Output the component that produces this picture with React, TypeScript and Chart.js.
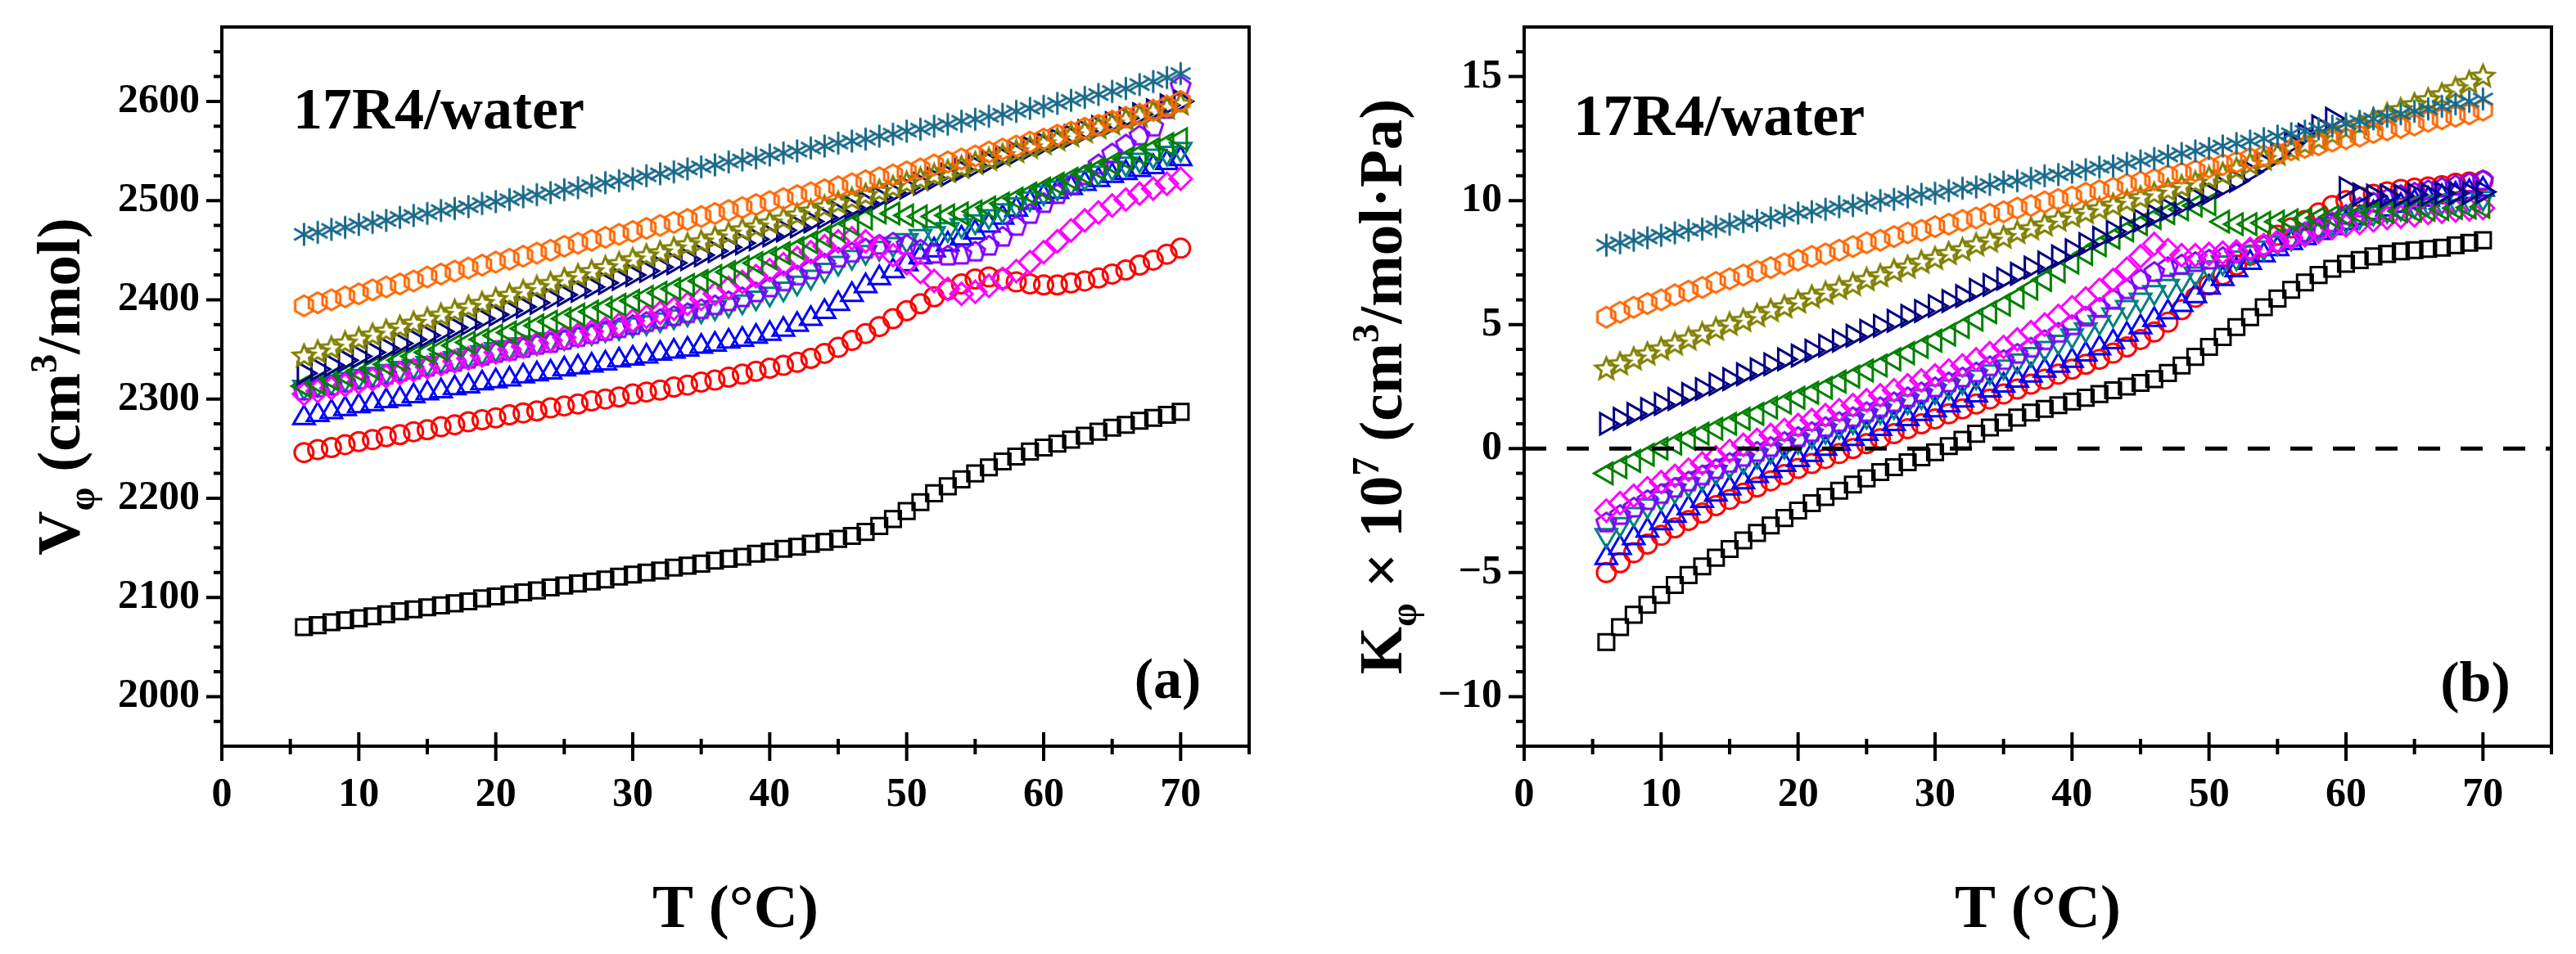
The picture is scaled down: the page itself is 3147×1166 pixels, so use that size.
import { useEffect, useRef } from 'react';
import { Chart, registerables, ChartConfiguration, Plugin } from 'chart.js';

Chart.register(...registerables);

const FONT = "'Liberation Serif', 'Times New Roman', serif";

// temperature, °C
const temps = [
  6, 7, 8, 9, 10, 11, 12, 13, 14, 15,
  16, 17, 18, 19, 20, 21, 22, 23, 24, 25,
  26, 27, 28, 29, 30, 31, 32, 33, 34, 35,
  36, 37, 38, 39, 40, 41, 42, 43, 44, 45,
  46, 47, 48, 49, 50, 51, 52, 53, 54, 55,
  56, 57, 58, 59, 60, 61, 62, 63, 64, 65,
  66, 67, 68, 69, 70,
];

// (a) V_phi, cm3/mol
const vBlack = [
  2070, 2072, 2075, 2077, 2079, 2081, 2083, 2086, 2088, 2090,
  2092, 2094, 2096, 2099, 2101, 2103, 2105, 2107, 2110, 2112,
  2114, 2116, 2118, 2121, 2123, 2125, 2127, 2130, 2132, 2134,
  2137, 2139, 2141, 2144, 2146, 2149, 2151, 2154, 2156, 2159,
  2162, 2166, 2172, 2179, 2187, 2196, 2205, 2212, 2219, 2225,
  2231, 2237, 2242, 2247, 2251, 2255, 2259, 2263, 2267, 2271,
  2274, 2278, 2281, 2284, 2287,
];
const vRed = [
  2246, 2249, 2251, 2254, 2257, 2259, 2262, 2264, 2267, 2269,
  2272, 2274, 2277, 2279, 2281, 2284, 2286, 2288, 2291, 2293,
  2295, 2298, 2300, 2302, 2305, 2307, 2309, 2312, 2314, 2317,
  2319, 2322, 2325, 2328, 2331, 2334, 2337, 2341, 2346, 2352,
  2359, 2366, 2373, 2381, 2389, 2396, 2403, 2410, 2416, 2421,
  2423, 2421, 2418, 2416, 2415, 2415, 2417, 2419, 2422, 2426,
  2430, 2435, 2440, 2446, 2452,
];
const vBlue = [
  2281, 2284, 2287, 2290, 2293, 2295, 2298, 2300, 2303, 2306,
  2308, 2311, 2313, 2316, 2318, 2320, 2323, 2325, 2327, 2330,
  2332, 2334, 2336, 2339, 2341, 2343, 2346, 2348, 2350, 2353,
  2355, 2358, 2360, 2363, 2366, 2370, 2375, 2381, 2388, 2396,
  2405, 2414, 2422, 2429, 2436, 2443, 2450, 2456, 2462, 2468,
  2475, 2483, 2491, 2498, 2504, 2509, 2513, 2517, 2521, 2525,
  2528, 2531, 2534, 2538, 2542,
];
const vTeal = [
  2312, 2315, 2317, 2320, 2323, 2325, 2328, 2331, 2333, 2336,
  2339, 2341, 2344, 2347, 2350, 2352, 2355, 2357, 2360, 2362,
  2365, 2367, 2370, 2372, 2375, 2377, 2380, 2383, 2386, 2389,
  2392, 2395, 2398, 2402, 2406, 2411, 2417, 2423, 2430, 2437,
  2443, 2448, 2452, 2456, 2460, 2464, 2467, 2471, 2475, 2479,
  2484, 2490, 2496, 2502, 2508, 2513, 2518, 2523, 2528, 2533,
  2537, 2541, 2545, 2548, 2552,
];
const vMagenta = [
  2305, 2308, 2311, 2314, 2317, 2320, 2323, 2326, 2329, 2332,
  2335, 2338, 2341, 2344, 2347, 2350, 2353, 2356, 2359, 2362,
  2365, 2368, 2371, 2375, 2379, 2383, 2387, 2391, 2396, 2401,
  2406, 2412, 2418, 2424, 2430, 2436, 2442, 2448, 2454, 2459,
  2462, 2459, 2453, 2445, 2437, 2428, 2419, 2411, 2406, 2408,
  2414, 2421, 2429, 2438, 2448, 2459, 2470, 2480, 2488, 2495,
  2501, 2507, 2512, 2517, 2522,
];
const vPurple = [
  2308, 2311, 2313, 2316, 2319, 2321, 2324, 2327, 2329, 2332,
  2335, 2337, 2340, 2343, 2346, 2348, 2351, 2354, 2356, 2359,
  2362, 2365, 2368, 2371, 2374, 2377, 2380, 2383, 2386, 2390,
  2394, 2398, 2402, 2407, 2412, 2418, 2424, 2430, 2436, 2442,
  2447, 2451, 2455, 2457, 2455, 2450, 2446, 2444, 2445, 2448,
  2454, 2463, 2474, 2486, 2497, 2506, 2515, 2525, 2536, 2547,
  2556, 2565, 2574, 2592, 2615,
];
const vGreen = [
  2313, 2316, 2320, 2324, 2328, 2331, 2335, 2339, 2343, 2347,
  2350, 2354, 2357, 2360, 2364, 2367, 2371, 2374, 2378, 2381,
  2385, 2388, 2392, 2395, 2399, 2403, 2407, 2411, 2415, 2419,
  2424, 2428, 2433, 2437, 2442, 2447, 2452, 2458, 2464, 2470,
  2476, 2482, 2488, 2487, 2485, 2484, 2484, 2485, 2487, 2489,
  2493, 2497, 2502, 2507, 2512, 2517, 2522, 2527, 2532, 2537,
  2542, 2547, 2552, 2557, 2562,
];
const vNavy = [
  2326, 2330, 2334, 2339, 2343, 2347, 2351, 2356, 2360, 2364,
  2368, 2372, 2376, 2381, 2385, 2389, 2393, 2397, 2401, 2405,
  2409, 2413, 2417, 2421, 2425, 2429, 2433, 2437, 2441, 2445,
  2449, 2453, 2457, 2461, 2465, 2470, 2474, 2479, 2483, 2488,
  2493, 2498, 2503, 2508, 2513, 2517, 2522, 2526, 2531, 2535,
  2539, 2544, 2548, 2553, 2557, 2561, 2565, 2570, 2574, 2578,
  2583, 2587, 2591, 2596, 2600,
];
const vOlive = [
  2343, 2347, 2351, 2356, 2360, 2364, 2368, 2372, 2376, 2380,
  2384, 2388, 2392, 2396, 2400, 2404, 2408, 2412, 2416, 2420,
  2424, 2428, 2432, 2436, 2440, 2444, 2447, 2451, 2455, 2458,
  2462, 2466, 2470, 2473, 2477, 2481, 2485, 2489, 2493, 2497,
  2501, 2505, 2509, 2513, 2517, 2521, 2525, 2529, 2533, 2537,
  2541, 2545, 2549, 2553, 2557, 2561, 2565, 2569, 2573, 2577,
  2581, 2585, 2589, 2593, 2597,
];
const vOrange = [
  2394, 2397, 2400, 2403, 2406, 2410, 2413, 2416, 2419, 2423,
  2426, 2429, 2432, 2435, 2438, 2441, 2444, 2447, 2450, 2454,
  2457, 2460, 2463, 2466, 2469, 2472, 2475, 2478, 2481, 2484,
  2487, 2490, 2493, 2496, 2499, 2502, 2505, 2508, 2511, 2514,
  2517, 2520, 2523, 2526, 2529, 2532, 2536, 2539, 2542, 2545,
  2549, 2552, 2555, 2559, 2562, 2566, 2569, 2573, 2576, 2580,
  2584, 2587, 2591, 2595, 2600,
];
const vAster = [
  2466, 2468, 2471, 2473, 2476, 2478, 2480, 2483, 2485, 2487,
  2490, 2492, 2494, 2497, 2499, 2501, 2504, 2506, 2508, 2511,
  2513, 2515, 2518, 2520, 2522, 2525, 2527, 2529, 2532, 2534,
  2536, 2539, 2541, 2543, 2546, 2548, 2550, 2553, 2555, 2558,
  2560, 2562, 2565, 2567, 2570, 2572, 2575, 2577, 2580, 2582,
  2585, 2587, 2590, 2593, 2595, 2598, 2601, 2604, 2607, 2610,
  2613, 2617, 2620, 2624, 2628,
];

// (b) K_phi x 10^7, cm3/(mol Pa)
const kBlack = [
  -7.8, -7.2, -6.7, -6.3, -5.9, -5.5, -5.1, -4.75, -4.4, -4.05,
  -3.7, -3.4, -3.1, -2.8, -2.5, -2.2, -1.95, -1.7, -1.45, -1.2,
  -0.95, -0.75, -0.55, -0.35, -0.15, 0.1, 0.35, 0.6, 0.85, 1.05,
  1.25, 1.45, 1.6, 1.75, 1.9, 2.05, 2.2, 2.35, 2.5, 2.65,
  2.8, 3.05, 3.35, 3.7, 4.1, 4.5, 4.9, 5.3, 5.7, 6.05,
  6.4, 6.7, 7.0, 7.25, 7.45, 7.6, 7.75, 7.85, 7.95, 8.0,
  8.05, 8.1, 8.2, 8.3, 8.4,
];
const kRed = [
  -5.0, -4.6, -4.2, -3.85, -3.5, -3.2, -2.9, -2.6, -2.3, -2.05,
  -1.8, -1.55, -1.3, -1.05, -0.8, -0.6, -0.4, -0.2, 0.0, 0.2,
  0.4, 0.6, 0.8, 1.0, 1.2, 1.4, 1.6, 1.8, 2.0, 2.2,
  2.4, 2.6, 2.8, 3.0, 3.2, 3.4, 3.6, 3.85, 4.1, 4.4,
  4.7, 5.1, 5.6, 6.1, 6.6, 7.0, 7.4, 7.8, 8.2, 8.6,
  8.9, 9.2, 9.5, 9.8, 10.0, 10.15, 10.25, 10.35, 10.45, 10.5,
  10.55, 10.6, 10.7, 10.75, 10.8,
];
const kBlue = [
  -4.4, -4.0, -3.6, -3.3, -3.0, -2.7, -2.4, -2.1, -1.85, -1.6,
  -1.35, -1.1, -0.9, -0.65, -0.45, -0.25, 0.0, 0.2, 0.4, 0.6,
  0.8, 1.0, 1.2, 1.4, 1.55, 1.75, 1.95, 2.15, 2.35, 2.55,
  2.75, 2.95, 3.15, 3.35, 3.55, 3.8, 4.05, 4.3, 4.6, 4.9,
  5.2, 5.5, 5.8, 6.15, 6.5, 6.85, 7.2, 7.5, 7.8, 8.05,
  8.3, 8.5, 8.7, 8.9, 9.1, 9.3, 9.5, 9.65, 9.8, 9.95,
  10.05, 10.15, 10.25, 10.35, 10.45,
];
const kTeal = [
  -3.5, -3.05, -2.65, -2.3, -2.0, -1.7, -1.45, -1.2, -0.95, -0.7,
  -0.5, -0.3, -0.1, 0.1, 0.3, 0.5, 0.7, 0.9, 1.1, 1.3,
  1.5, 1.7, 1.9, 2.1, 2.3, 2.5, 2.7, 2.9, 3.1, 3.3,
  3.55, 3.8, 4.05, 4.3, 4.55, 4.8, 5.1, 5.4, 5.7, 6.0,
  6.3, 6.55, 6.8, 7.05, 7.3, 7.5, 7.7, 7.9, 8.1, 8.3,
  8.5, 8.7, 8.9, 9.05, 9.2, 9.35, 9.5, 9.6, 9.7, 9.8,
  9.9, 9.95, 10.0, 10.05, 10.1,
];
const kMagenta = [
  -2.5, -2.2, -1.9, -1.6, -1.35, -1.1, -0.85, -0.6, -0.35, -0.1,
  0.15, 0.35, 0.55, 0.75, 0.95, 1.15, 1.35, 1.55, 1.75, 1.95,
  2.15, 2.35, 2.55, 2.75, 2.95, 3.15, 3.35, 3.6, 3.85, 4.1,
  4.4, 4.7, 5.0, 5.35, 5.7, 6.05, 6.4, 6.8, 7.25, 7.75,
  8.25, 8.0, 7.8, 7.8, 7.85, 7.9, 7.95, 8.05, 8.2, 8.35,
  8.5, 8.6, 8.75, 8.9, 9.0, 9.1, 9.2, 9.3, 9.35, 9.4,
  9.5, 9.55, 9.6, 9.65, 9.7,
];
const kPurple = [
  -3.0, -2.7, -2.4, -2.1, -1.85, -1.6, -1.35, -1.1, -0.85, -0.6,
  -0.35, -0.15, 0.05, 0.25, 0.45, 0.65, 0.85, 1.05, 1.25, 1.45,
  1.65, 1.85, 2.05, 2.25, 2.45, 2.65, 2.85, 3.05, 3.3, 3.55,
  3.8, 4.05, 4.35, 4.65, 4.95, 5.3, 5.65, 6.0, 6.4, 6.8,
  7.1, 7.3, 7.4, 7.5, 7.6, 7.7, 7.85, 8.0, 8.15, 8.3,
  8.5, 8.7, 8.9, 9.1, 9.4, 9.7, 9.9, 10.05, 10.2, 10.3,
  10.4, 10.5, 10.6, 10.7, 10.8,
];
const kGreen = [
  -1.0, -0.75, -0.5, -0.25, 0.0, 0.2, 0.4, 0.6, 0.8, 1.0,
  1.2, 1.4, 1.65, 1.85, 2.05, 2.25, 2.45, 2.7, 2.9, 3.15,
  3.35, 3.6, 3.85, 4.1, 4.35, 4.6, 4.9, 5.2, 5.5, 5.8,
  6.1, 6.45, 6.8, 7.15, 7.5, 7.85, 8.2, 8.5, 8.8, 9.05,
  9.3, 9.5, 9.65, 9.8, 9.85, 9.15, 9.05, 9.05, 9.1, 9.15,
  9.2, 9.25, 9.3, 9.35, 9.4, 9.45, 9.5, 9.55, 9.58, 9.6,
  9.63, 9.66, 9.7, 9.72, 9.75,
];
const kNavy = [
  1.0, 1.2, 1.4, 1.6, 1.8, 2.0, 2.2, 2.4, 2.6, 2.8,
  3.0, 3.2, 3.4, 3.6, 3.75, 3.95, 4.15, 4.35, 4.55, 4.75,
  4.95, 5.15, 5.35, 5.55, 5.75, 5.95, 6.15, 6.4, 6.6, 6.85,
  7.05, 7.3, 7.5, 7.75, 8.0, 8.25, 8.5, 8.75, 8.95, 9.2,
  9.4, 9.65, 9.85, 10.1, 10.3, 10.55, 10.8, 11.15, 11.5, 11.9,
  12.3, 12.65, 13.0, 13.3, 10.5, 10.25, 10.2, 10.2, 10.2, 10.25,
  10.25, 10.3, 10.3, 10.3, 10.35,
];
const kOlive = [
  3.2, 3.4, 3.6, 3.8, 4.0, 4.2, 4.4, 4.6, 4.8, 5.0,
  5.15, 5.35, 5.55, 5.7, 5.9, 6.1, 6.25, 6.45, 6.6, 6.8,
  6.95, 7.15, 7.3, 7.5, 7.65, 7.85, 8.0, 8.2, 8.35, 8.5,
  8.7, 8.85, 9.0, 9.2, 9.35, 9.5, 9.65, 9.8, 9.95, 10.1,
  10.25, 10.4, 10.55, 10.7, 10.9, 11.05, 11.25, 11.45, 11.65, 11.85,
  12.05, 12.25, 12.45, 12.65, 12.85, 13.05, 13.25, 13.45, 13.65, 13.85,
  14.05, 14.25, 14.5, 14.75, 15.0,
];
const kOrange = [
  5.3, 5.5, 5.7, 5.85, 6.0, 6.2, 6.35, 6.5, 6.7, 6.85,
  7.0, 7.15, 7.3, 7.45, 7.6, 7.75, 7.85, 8.0, 8.15, 8.3,
  8.4, 8.55, 8.7, 8.8, 8.95, 9.05, 9.2, 9.3, 9.45, 9.55,
  9.7, 9.8, 9.95, 10.05, 10.15, 10.3, 10.4, 10.5, 10.65, 10.75,
  10.85, 11.0, 11.1, 11.2, 11.35, 11.45, 11.55, 11.7, 11.8, 11.9,
  12.05, 12.15, 12.25, 12.4, 12.5, 12.6, 12.75, 12.85, 12.95, 13.05,
  13.2, 13.3, 13.4, 13.5, 13.65,
];
const kAster = [
  8.2, 8.3, 8.4, 8.5, 8.6, 8.7, 8.8, 8.85, 8.95, 9.05,
  9.15, 9.2, 9.3, 9.4, 9.5, 9.55, 9.65, 9.75, 9.8, 9.9,
  10.0, 10.05, 10.15, 10.25, 10.3, 10.4, 10.5, 10.55, 10.65, 10.75,
  10.8, 10.9, 11.0, 11.05, 11.15, 11.25, 11.35, 11.4, 11.5, 11.6,
  11.7, 11.8, 11.9, 12.0, 12.1, 12.2, 12.3, 12.4, 12.5, 12.6,
  12.7, 12.8, 12.9, 13.0, 13.1, 13.2, 13.3, 13.4, 13.5, 13.6,
  13.7, 13.8, 13.9, 14.0, 14.1,
];

// axes
const xTicks = [0, 10, 20, 30, 40, 50, 60, 70];
const xMinor = [5, 15, 25, 35, 45, 55, 65, 75];
const vTicks = [2000, 2100, 2200, 2300, 2400, 2500, 2600];
const vMinor = [
  1975, 2025, 2050, 2075, 2125, 2150, 2175, 2225, 2250, 2275, 2325, 2350, 2375,
  2425, 2450, 2475, 2525, 2550, 2575, 2625, 2650,
];
const kTicks = [-10, -5, 0, 5, 10, 15];
const kMinor = [-12, -11, -9, -8, -7, -6, -4, -3, -2, -1, 1, 2, 3, 4, 6, 7, 8, 9, 11, 12, 13, 14, 16];
const zeroLine = [0, 75];

type Seg = [string, number]; // 0 normal, 1 subscript, -1 superscript
const xTitle: Seg[] = [['T (°C)', 0]];
const vTitle: Seg[] = [['V', 0], ['φ', 1], [' (cm', 0], ['3', -1], ['/mol)', 0]];
const kTitle: Seg[] = [['K', 0], ['φ', 1], [' × 10', 0], ['7', -1], [' (cm', 0], ['3', -1], ['/mol·Pa)', 0]];

interface Series {
  color: string;
  style: string;
  rot?: number;
  r: number;
  v: number[];
  k: number[];
}

// first entry is drawn on top
const series: Series[] = [
  { color: '#1A6A8A', style: 'asterisk', r: 14, v: vAster, k: kAster },
  { color: '#FF6600', style: 'hexagon', r: 12.5, v: vOrange, k: kOrange },
  { color: '#808000', style: 'star5', r: 14, v: vOlive, k: kOlive },
  { color: '#000080', style: 'triangle', rot: 90, r: 15, v: vNavy, k: kNavy },
  { color: '#008000', style: 'triangle', rot: 270, r: 15, v: vGreen, k: kGreen },
  { color: '#FF00FF', style: 'rectRot', r: 13.5, v: vMagenta, k: kMagenta },
  { color: '#8000FF', style: 'pentagon', r: 12.5, v: vPurple, k: kPurple },
  { color: '#008080', style: 'triangle', rot: 180, r: 15, v: vTeal, k: kTeal },
  { color: '#0000FF', style: 'triangle', r: 15, v: vBlue, k: kBlue },
  { color: '#FF0000', style: 'circle', r: 11.5, v: vRed, k: kRed },
  { color: '#000000', style: 'rect', r: 13.5, v: vBlack, k: kBlack },
];

function markerCanvas(style: string, color: string, r: number) {
  const lw = 3;
  const s = Math.ceil(2 * r + lw + 4);
  const c = document.createElement('canvas');
  c.width = s;
  c.height = s;
  const g = c.getContext('2d')!;
  g.translate(s / 2, s / 2);
  g.strokeStyle = color;
  g.lineWidth = lw;
  g.beginPath();
  if (style === 'asterisk') {
    [90, 30, -30].forEach(d => {
      const a = (d * Math.PI) / 180;
      g.moveTo(Math.cos(a) * r, -Math.sin(a) * r);
      g.lineTo(-Math.cos(a) * r, Math.sin(a) * r);
    });
  } else {
    const n = style === 'star5' ? 10 : style === 'hexagon' ? 6 : 5;
    for (let i = 0; i < n; i++) {
      const a = -Math.PI / 2 + (i * 2 * Math.PI) / n;
      const rr = style === 'star5' && i % 2 ? r * 0.45 : r;
      if (i === 0) g.moveTo(Math.cos(a) * rr, Math.sin(a) * rr);
      else g.lineTo(Math.cos(a) * rr, Math.sin(a) * rr);
    }
    g.closePath();
  }
  g.stroke();
  return c;
}

function drawRich(ctx: CanvasRenderingContext2D, segs: Seg[], size: number, x: number, y: number, vertical: boolean) {
  const small = size * 0.62;
  const fontFor = (s: number) => `bold ${s}px ${FONT}`;
  let total = 0;
  const widths = segs.map(([t, m]) => {
    ctx.font = fontFor(m ? small : size);
    const w = ctx.measureText(t).width;
    total += w;
    return w;
  });
  ctx.save();
  ctx.translate(x, y);
  if (vertical) ctx.rotate(-Math.PI / 2);
  ctx.fillStyle = '#000';
  ctx.textAlign = 'left';
  ctx.textBaseline = 'alphabetic';
  let pos = -total / 2;
  segs.forEach(([t, m], i) => {
    ctx.font = fontFor(m ? small : size);
    const dy = m === 1 ? size * 0.24 : m === -1 ? -size * 0.38 : 0;
    ctx.fillText(t, pos, dy);
    pos += widths[i];
  });
  ctx.restore();
}

interface PanelDef {
  left: number;
  width: number;
  axisWidth: number;
  padRight: number;
  yMin: number;
  yMax: number;
  yTicks: number[];
  yMinor: number[];
  which: 'v' | 'k';
  yTitle: Seg[];
  yTitleX: number;
  zero: boolean;
  name: [number, number];
  tag: string;
  tagAt: [number, number];
}

const panelA: PanelDef = {
  left: 0, width: 1573, axisWidth: 271, padRight: 47,
  yMin: 1950, yMax: 2675, yTicks: vTicks, yMinor: vMinor, which: 'v',
  yTitle: vTitle, yTitleX: 97, zero: false,
  name: [5.2, 2573], tag: '(a)', tagAt: [71.5, 1999],
};

const panelB: PanelDef = {
  left: 1573, width: 1574, axisWidth: 289, padRight: 30,
  yMin: -12, yMax: 17, yTicks: kTicks, yMinor: kMinor, which: 'k',
  yTitle: kTitle, yTitleX: 139, zero: true,
  name: [3.6, 12.64], tag: '(b)', tagAt: [72, -10.2],
};

const PLOT_BOTTOM = 912;
const HEIGHT = 1166;

const decor = (def: PanelDef): Plugin<'scatter'> => ({
  id: 'decor',
  afterDraw(chart) {
    const { ctx, chartArea: a } = chart;
    const xs = chart.scales.x;
    const ys = chart.scales.y;
    ctx.save();
    ctx.strokeStyle = '#000';
    ctx.lineWidth = 4;
    ctx.beginPath();
    xs.ticks.forEach(t => {
      const p = xs.getPixelForValue(t.value);
      ctx.moveTo(p, a.bottom - 17);
      ctx.lineTo(p, a.bottom + 18);
    });
    xMinor.forEach(v => {
      const p = xs.getPixelForValue(v);
      ctx.moveTo(p, a.bottom - 9);
      ctx.lineTo(p, a.bottom + 10);
    });
    ys.ticks.forEach(t => {
      const p = ys.getPixelForValue(t.value);
      ctx.moveTo(a.left - 19, p);
      ctx.lineTo(a.left, p);
    });
    def.yMinor.forEach(v => {
      const p = ys.getPixelForValue(v);
      ctx.moveTo(a.left - 10, p);
      ctx.lineTo(a.left, p);
    });
    ctx.stroke();
    ctx.strokeRect(a.left, a.top, a.right - a.left, a.bottom - a.top);

    ctx.fillStyle = '#000';
    ctx.textBaseline = 'alphabetic';
    ctx.textAlign = 'left';
    ctx.font = `bold 72px ${FONT}`;
    ctx.fillText('17R4/water', xs.getPixelForValue(def.name[0]), ys.getPixelForValue(def.name[1]));
    ctx.textAlign = 'right';
    ctx.font = `bold 70px ${FONT}`;
    ctx.fillText(def.tag, xs.getPixelForValue(def.tagAt[0]), ys.getPixelForValue(def.tagAt[1]));

    drawRich(ctx, xTitle, 75, (a.left + a.right) / 2, 1133, false);
    drawRich(ctx, def.yTitle, 75, def.yTitleX, (a.top + a.bottom) / 2, true);
    ctx.restore();
  },
});

const Panel: React.FC<{ def: PanelDef }> = ({ def }) => {
  const chartRef = useRef<HTMLCanvasElement>(null);
  const chartInstanceRef = useRef<Chart | null>(null);

  useEffect(() => {
    if (!chartRef.current) return;
    const ctx = chartRef.current.getContext('2d');
    if (!ctx) return;

    const datasets: any[] = [];
    if (def.zero) {
      datasets.push({
        label: 'zero',
        data: zeroLine.map(x => ({ x, y: 0 })),
        showLine: true,
        borderColor: '#000',
        borderWidth: 5,
        borderDash: [27, 25],
        pointRadius: 0,
      });
    }
    series.forEach(s => {
      const builtIn = ['triangle', 'rect', 'rectRot', 'circle'].includes(s.style);
      const vals = def.which === 'v' ? s.v : s.k;
      datasets.push({
        label: s.style,
        data: temps.map((t, i) => ({ x: t, y: vals[i] })),
        showLine: false,
        pointStyle: builtIn ? s.style : markerCanvas(s.style, s.color, s.r),
        pointRotation: s.rot || 0,
        pointRadius: s.r,
        pointBorderColor: s.color,
        pointBackgroundColor: 'rgba(0,0,0,0)',
        pointBorderWidth: 3,
        borderColor: s.color,
      });
    });

    const tickFont = { size: 50, weight: 'bold' as const, family: FONT };
    const config: ChartConfiguration<'scatter'> = {
      type: 'scatter',
      data: { datasets },
      options: {
        animation: false,
        responsive: true,
        maintainAspectRatio: false,
        events: [],
        layout: { padding: { top: 33, right: def.padRight, left: 0, bottom: 0 } },
        plugins: { legend: { display: false }, tooltip: { enabled: false } },
        scales: {
          x: {
            type: 'linear',
            min: 0,
            max: 75,
            afterBuildTicks: (s: any) => { s.ticks = xTicks.map(value => ({ value })); },
            afterFit: (s: any) => { s.height = HEIGHT - PLOT_BOTTOM; s.paddingLeft = 0; s.paddingRight = 0; },
            grid: { display: false, drawTicks: true, tickLength: 18 },
            border: { display: false },
            ticks: { font: tickFont, color: '#000', padding: 12, autoSkip: false, maxRotation: 0, callback: (v: any) => String(v) },
          },
          y: {
            type: 'linear',
            min: def.yMin,
            max: def.yMax,
            afterBuildTicks: (s: any) => { s.ticks = def.yTicks.map(value => ({ value })); },
            afterFit: (s: any) => { s.width = def.axisWidth; s.paddingTop = 0; s.paddingBottom = 0; },
            grid: { display: false, drawTicks: true, tickLength: 19 },
            border: { display: false },
            ticks: {
              font: tickFont, color: '#000', padding: 8, autoSkip: false,
              callback: (v: any) => (Number(v) < 0 ? '\u2212' + Math.abs(Number(v)) : String(v)),
            },
          },
        },
      },
      plugins: [decor(def)],
    };

    if (chartInstanceRef.current) chartInstanceRef.current.destroy();
    chartInstanceRef.current = new Chart(ctx, config);

    return () => {
      if (chartInstanceRef.current) {
        chartInstanceRef.current.destroy();
        chartInstanceRef.current = null;
      }
    };
  }, [def]);

  return (
    <div style={{ position: 'absolute', left: def.left, top: 0, width: def.width, height: HEIGHT }}>
      <canvas ref={chartRef}></canvas>
    </div>
  );
};

export default function App() {
  return (
    <div style={{ position: 'fixed', left: 0, top: 0, width: 3147, height: HEIGHT, background: '#fff' }}>
      <Panel def={panelA} />
      <Panel def={panelB} />
    </div>
  );
}
